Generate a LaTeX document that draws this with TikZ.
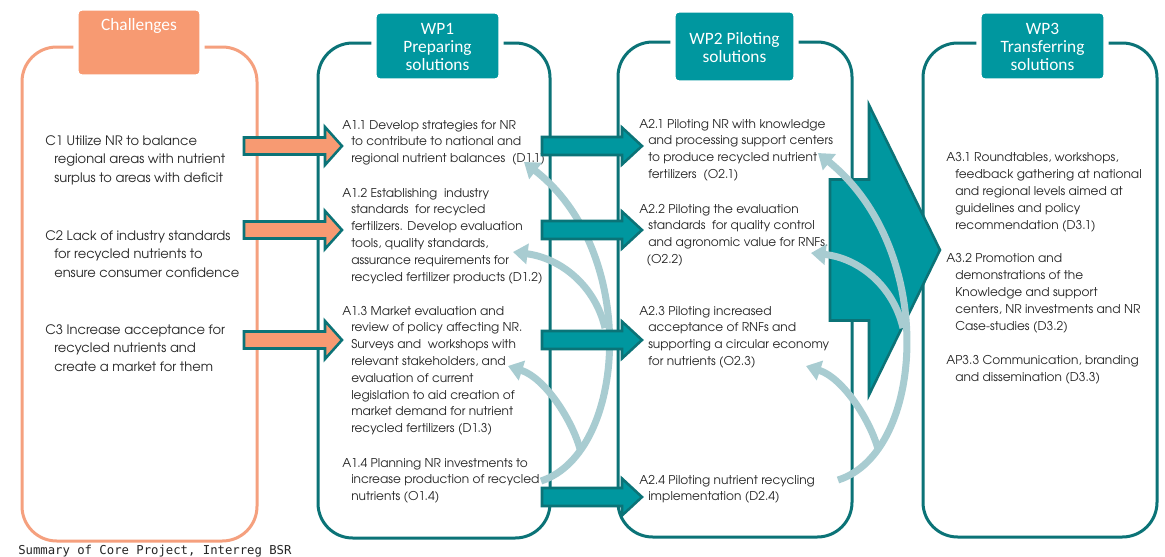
\documentclass[tikz,border=0pt]{standalone}
\usepackage{fontspec}
\usetikzlibrary{arrows.meta}
\newfontfamily\bodyf{TeX Gyre Adventor}
\newfontfamily\headf{Carlito}
\newfontfamily\footf{DejaVu Sans Mono}
\definecolor{orng}{HTML}{F79A72}
\definecolor{orngline}{HTML}{F5A07E}
\definecolor{tealfill}{HTML}{00979F}
\definecolor{tealdark}{HTML}{0B7377}
\definecolor{lightblue}{HTML}{A8CCD1}
\definecolor{txt}{HTML}{262626}
\newcommand\lns[1]{\begin{tabular}[t]{@{}l@{}}#1\end{tabular}}
\newcommand\clns[1]{\begin{tabular}[t]{@{}c@{}}#1\end{tabular}}
\newcommand\ind{\hspace*{6.75pt}}
\newcommand\blockarr[7]{\draw[#1] (#2,#5-#6) -- (#3,#5-#6) -- (#3,#5-#7) -- (#4,#5) -- (#3,#5+#7) -- (#3,#5+#6) -- (#2,#5+#6) -- cycle;}
\tikzset{
  panelO/.style={draw=orngline, line width=2.25pt, rounded corners=26pt, inner sep=0pt, outer sep=0pt},
  panelT/.style={draw=tealdark, line width=2.25pt, rounded corners=26pt, inner sep=0pt, outer sep=0pt},
  headbox/.style={draw=white, line width=4pt, rounded corners=4.5pt, inner sep=0pt, outer sep=0pt},
  htext/.style={text=white, font=\headf\fontsize{13}{13.8}\selectfont, inner sep=0pt, anchor=base},
  body/.style={text=txt, font=\bodyf\fontsize{9.1}{12.6}\selectfont, inner sep=0pt, anchor=base west},
  lbody/.style={text=txt, font=\bodyf\fontsize{9.8}{14.1}\selectfont, inner sep=0pt, anchor=base west},
  oarrow/.style={fill=orng, draw=tealdark, line width=1.9pt},
  tarrow/.style={fill=tealfill, draw=tealdark, line width=1.9pt},
  curve/.style={draw=lightblue, line width=5.25pt, -{Triangle[width=15pt,length=11pt]}},
}
\begin{document}
\begin{tikzpicture}[x=0.75pt,y=-0.75pt]
\useasboundingbox[fill=white] (0,0) rectangle (1165,557);

% panels
\node[panelO, minimum width=176.25pt, minimum height=370.5pt] (chal) at (139.5,294) {};
\node[panelT, minimum width=174pt, minimum height=371.25pt] (wp1) at (434,290.5) {};
\node[panelT, minimum width=175.5pt, minimum height=371.25pt] (wp2) at (735,289.5) {};
\node[panelT, minimum width=175.5pt, minimum height=370.5pt] (wp3) at (1040,290) {};

% headers
\node[headbox, fill=orng, minimum width=94.5pt, minimum height=51.75pt] (hchal) at (139,42.5) {};
\node[headbox, fill=tealfill, minimum width=95.25pt, minimum height=52.5pt] (hwp1) at (437.5,46) {};
\node[headbox, fill=tealfill, minimum width=92.25pt, minimum height=54.75pt] (hwp2) at (734.5,46.5) {};
\node[headbox, fill=tealfill, minimum width=95.25pt, minimum height=52.5pt] (hwp3) at (1042.5,46) {};
\node[htext] (tchal) at (139,30) {Challenges};
\node[htext] (twp1) at (437.5,34) {\clns{WP1\\Preparing\\solutions}};
\node[htext] (twp2) at (734.5,44) {\clns{WP2 Piloting\\solutions}};
\node[htext] (twp3) at (1042.5,34) {\clns{WP3\\Transferring\\solutions}};

% challenges
\node[lbody] (c1) at (45,145) {\lns{C1 Utilize NR to balance\\\ind regional areas with nutrient\\\ind surplus to areas with deficit}};
\node[lbody] (c2) at (45,240) {\lns{C2 Lack of industry standards\\\ind for recycled nutrients to\\\ind ensure consumer confidence}};
\node[lbody] (c3) at (45,334) {\lns{C3 Increase acceptance for\\\ind recycled nutrients and\\\ind create a market for them}};

% WP1
\node[body] (a11) at (342,129) {\lns{A1.1 Develop strategies for NR\\\ind to contribute to national and\\\ind regional nutrient balances\ \ (D1.1)}};
\node[body] (a12) at (342,197) {\lns{A1.2 Establishing\ \ industry\\\ind standards\ \ for recycled\\\ind fertilizers. Develop evaluation\\\ind tools, quality standards,\\\ind assurance requirements for\\\ind recycled fertilizer products (D1.2)}};
\node[body] (a13) at (342,315) {\lns{A1.3 Market evaluation and\\\ind review of policy affecting NR.\\\ind Surveys and\ \ workshops with\\\ind relevant stakeholders, and\\\ind evaluation of current\\\ind legislation to aid creation of\\\ind market demand for nutrient\\\ind recycled fertilizers (D1.3)}};
\node[body] (a14) at (342,467) {\lns{A1.4 Planning NR investments to\\\ind increase production of recycled\\\ind nutrients (O1.4)}};

% WP2
\node[body] (a21) at (639,128) {\lns{A2.1 Piloting NR with knowledge\\\ind and processing support centers\\\ind to produce recycled nutrient\\\ind fertilizers\ \ (O2.1)}};
\node[body] (a22) at (639,213) {\lns{A2.2 Piloting the evaluation\\\ind standards\ \ for quality control\\\ind and agronomic value for RNFs.\\\hspace*{5.5pt}(O2.2)}};
\node[body] (a23) at (639,315) {\lns{A2.3 Piloting increased\\\ind acceptance of RNFs and\\\ind supporting a circular economy\\\ind for nutrients (O2.3)}};
\node[body] (a24) at (639,484) {\lns{A2.4 Piloting nutrient recycling\\\ind implementation (D2.4)}};

% WP3
\node[body, font=\bodyf\fontsize{9.1}{12.75}\selectfont] (a31) at (946,161) {\lns{A3.1 Roundtables, workshops,\\\ind feedback gathering at national\\\ind and regional levels aimed at\\\ind guidelines and policy\\\ind recommendation (D3.1)}};
\node[body, font=\bodyf\fontsize{9.1}{12.75}\selectfont] (a32) at (946,262) {\lns{A3.2 Promotion and\\\ind demonstrations of the\\\ind Knowledge and support\\\ind centers, NR investments and NR\\\ind Case-studies (D3.2)}};
\node[body, font=\bodyf\fontsize{9.1}{12.75}\selectfont] (a33) at (946,364) {\lns{AP3.3 Communication, branding\\\ind and dissemination (D3.3)}};

% WP1 feedback curves
\coordinate (s1) at (541,481);
\coordinate (e1a) at (524,162);
\coordinate (e1b) at (513,252);
\coordinate (e1c) at (508,366);
\coordinate (j1b) at (605,328);
\coordinate (j1c) at (580,449);
\draw[curve] (s1) .. controls (627,453) and (640,252) .. (e1a);
\draw[curve] (j1b) .. controls (595,285) and (560,258) .. (e1b);
\draw[curve] (j1c) .. controls (572,420) and (545,378) .. (e1c);

% block arrows
\blockarr{oarrow}{244}{325}{342}{146}{8.5}{19}
\blockarr{oarrow}{244}{325}{342}{230}{8.5}{19}
\blockarr{oarrow}{244}{325}{342}{340}{8.5}{19}
\blockarr{tarrow}{542}{622}{642}{146}{9}{18.5}
\blockarr{tarrow}{542}{622}{642}{230}{9}{18.5}
\blockarr{tarrow}{542}{622}{642}{340}{9}{18.5}
\blockarr{tarrow}{542}{622}{642}{497}{9}{18.5}
\blockarr{tarrow}{830}{869}{940}{250}{70.5}{145}

% WP2 feedback curves
\coordinate (s2) at (838,480);
\coordinate (e2a) at (818,153);
\coordinate (e2b) at (811,253);
\coordinate (e2c) at (806,366);
\coordinate (j2b) at (903,328);
\coordinate (j2c) at (878,449);
\draw[curve] (s2) .. controls (925,453) and (938,250) .. (e2a);
\draw[curve] (j2b) .. controls (893,285) and (858,258) .. (e2b);
\draw[curve] (j2c) .. controls (870,420) and (843,378) .. (e2c);

\node[anchor=base west, inner sep=0pt, text=txt, font=\footf\fontsize{9.2}{11}\selectfont] (foot) at (18,554) {Summary of Core Project, Interreg BSR};
\end{tikzpicture}
\end{document}
